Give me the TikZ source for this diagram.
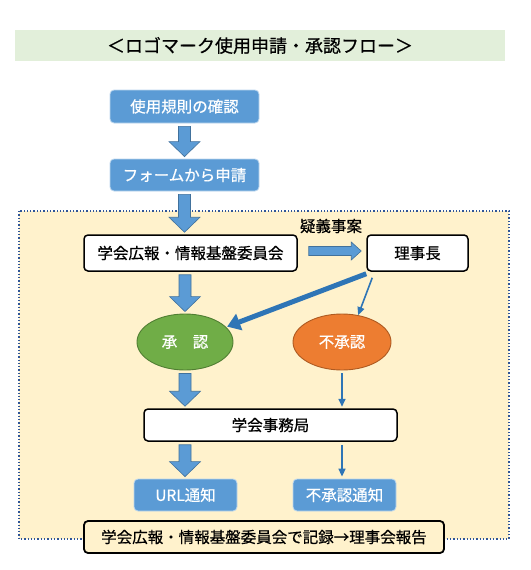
\documentclass[tikz,border=0pt]{standalone}
\usepackage{fontspec}
\setmainfont{Noto Sans CJK JP}[FakeBold=0.6]
\usetikzlibrary{calc,arrows.meta,shapes.geometric}
\definecolor{titlebg}{HTML}{E2EFDA}
\definecolor{blfill}{HTML}{5B9BD5}
\definecolor{bldraw}{HTML}{41719C}
\definecolor{bgyel}{HTML}{FFF2CC}
\definecolor{dotblue}{HTML}{2F5597}
\definecolor{arrblue}{HTML}{2E75B6}
\definecolor{grfill}{HTML}{70AD47}
\definecolor{grdraw}{HTML}{507E32}
\definecolor{orfill}{HTML}{ED7D31}
\definecolor{ordraw}{HTML}{AE5A21}
\tikzset{
  txt/.style={font=\fontsize{15.5pt}{17pt}\selectfont, inner sep=0pt},
  bluebox/.style={txt, rectangle, rounded corners=4pt, fill=blfill, draw=white!60!blfill, line width=0.8pt, text=white},
  whitebox/.style={txt, rectangle, rounded corners=4pt, fill=white, draw=black, line width=1.5pt},
  botbox/.style={txt, rectangle, rounded corners=4pt, fill=bgyel, draw=black, line width=1.8pt},
  ellbox/.style={txt, ellipse, line width=0.9pt, text=white},
  blk/.style={fill=blfill, draw=bldraw, line width=0.6pt, line join=miter},
  thinarr/.style={draw=arrblue, line width=1.6pt, -{Triangle[length=8pt,width=7pt]}},
  thickarr/.style={draw=arrblue, line width=5pt, -{Triangle[length=13pt,width=17pt]}},
}
% vertical block arrow: #1 node giving x, #2 top anchor, #3 bottom anchor
\newcommand\vblk[3]{%
  \draw[blk] let \p0=(#1), \p1=(#2), \p2=(#3) in
    (\x0-6pt,\y1-3pt) -- (\x0-6pt,\y2+17pt) -- (\x0-15.5pt,\y2+17pt) --
    (\x0,\y2+2pt) -- (\x0+15.5pt,\y2+17pt) -- (\x0+6pt,\y2+17pt) --
    (\x0+6pt,\y1-3pt) -- cycle;}
\begin{document}
\begin{tikzpicture}[x=1pt,y=-1pt]
\useasboundingbox (0,0) rectangle (530,570);
\fill[white] (0,0) rectangle (530,570);
% title band
\fill[titlebg] (15,30) rectangle (505,61);
\node[txt, font=\fontsize{18pt}{20pt}\selectfont] (title) at (260,45.5) {＜ロゴマーク使用申請・承認フロー＞};
% background dotted region
\draw[fill=bgyel, draw=dotblue, line width=1.3pt, dotted] (19,211) rectangle (509,539);
% nodes
\node[bluebox, minimum width=149pt, minimum height=33pt] (b1) at (184.5,106.5) {使用規則の確認};
\node[bluebox, minimum width=149pt, minimum height=32pt] (b2) at (184.5,175) {フォームから申請};
\node[whitebox, minimum width=213pt, minimum height=36pt] (iin) at (190.5,253) {学会広報・情報基盤委員会};
\node[whitebox, minimum width=101pt, minimum height=36pt] (rij) at (417.5,253) {理事長};
\node[txt] (gigi) at (331,226) {疑義事案};
\node[ellbox, fill=grfill, draw=grdraw, minimum width=96pt, minimum height=56pt] (yes) at (185,342) {承　認};
\node[ellbox, fill=orfill, draw=ordraw, minimum width=98pt, minimum height=56pt] (no) at (342,342) {不承認};
\node[whitebox, minimum width=253pt, minimum height=32pt] (jim) at (270.5,425) {学会事務局};
\node[bluebox, minimum width=103pt, minimum height=32pt] (url) at (185.5,495) {URL通知};
\node[bluebox, minimum width=103pt, minimum height=32pt] (ntf) at (344.5,495) {不承認通知};
\node[botbox, minimum width=360pt, minimum height=32pt] (bot) at (264,537) {学会広報・情報基盤委員会で記録→理事会報告};
% block arrows
\vblk{b1.south}{b1.south}{b2.north}
\vblk{b2.south}{b2.south}{iin.north}
\vblk{yes.north}{iin.south}{yes.north}
\vblk{yes.south}{yes.south}{jim.north}
\vblk{yes.south}{jim.south}{url.north}
% horizontal block arrow
\draw[blk] let \p1=(iin.east), \p2=(rij.west) in
  (\x1+11pt,\y1+6.5pt) -- (\x2-15pt,\y1+6.5pt) -- (\x2-15pt,\y1+11pt) --
  (\x2-5pt,\y1+2pt) -- (\x2-15pt,\y1-7pt) -- (\x2-15pt,\y1-2.5pt) --
  (\x1+11pt,\y1-2.5pt) -- cycle;
% diagonal arrows
\coordinate (dstart) at ($(rij.south west)+(0,2)$);
\draw[thickarr, shorten >=1pt] (dstart) -- (yes.20);
\coordinate (tstart) at ($(rij.south west)+(6,6)$);
\draw[thinarr] (tstart) -- (no.59);
% thin vertical arrows
\draw[thinarr, shorten <=3pt, shorten >=1.5pt] (no.south) -- (no.south |- jim.north);
\draw[thinarr, shorten <=3pt, shorten >=2pt] (no.south |- jim.south) -- (no.south |- ntf.north);
\end{tikzpicture}
\end{document}
